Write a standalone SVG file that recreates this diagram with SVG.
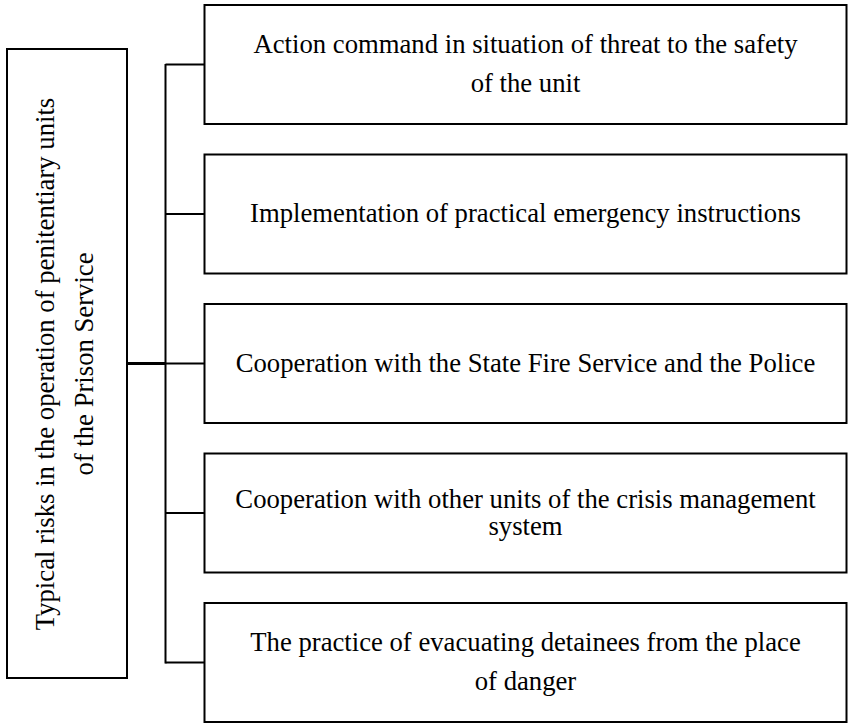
<svg xmlns="http://www.w3.org/2000/svg" width="848" height="723" viewBox="0 0 848 723">
<style>
.box{fill:#fff;stroke:#000;stroke-width:2}
.t{font-family:"Liberation Serif","Times New Roman",serif;font-size:26.7px;fill:#000;text-anchor:middle}
.c{stroke:#000;stroke-width:2;fill:none}
</style>
<rect width="848" height="723" fill="#fff"/>
<g id="connectors">
<line class="c" x1="127" y1="363.5" x2="165.5" y2="363.5" style="stroke-width:3"/>
<line class="c" x1="165.5" y1="64" x2="165.5" y2="663.5"/>
<line class="c" x1="165.5" y1="64.5" x2="204" y2="64.5"/>
<line class="c" x1="165.5" y1="214" x2="204" y2="214"/>
<line class="c" x1="165.5" y1="363.5" x2="204" y2="363.5"/>
<line class="c" x1="165.5" y1="513" x2="204" y2="513"/>
<line class="c" x1="165.5" y1="662.5" x2="204" y2="662.5"/>
</g>
<g id="root">
<rect class="box" x="7" y="49" width="120" height="629"/>
<text class="t" transform="translate(53.5,364) rotate(-90)"><tspan x="0" y="0">Typical risks in the operation of penitentiary units</tspan><tspan x="0" y="39">of the Prison Service</tspan></text>
</g>
<g id="n1">
<rect class="box" x="204.5" y="5" width="642" height="119"/>
<text class="t"><tspan x="525.5" y="53">Action command in situation of threat to the safety</tspan><tspan x="525.5" y="92">of the unit</tspan></text>
</g>
<g id="n2">
<rect class="box" x="204.5" y="154.5" width="642" height="119"/>
<text class="t" x="525.5" y="222">Implementation of practical emergency instructions</text>
</g>
<g id="n3">
<rect class="box" x="204.5" y="304" width="642" height="119"/>
<text class="t" x="525.5" y="372">Cooperation with the State Fire Service and the Police</text>
</g>
<g id="n4">
<rect class="box" x="204.5" y="453.5" width="642" height="119"/>
<text class="t"><tspan x="525.5" y="508">Cooperation with other units of the crisis management</tspan><tspan x="525.5" y="535">system</tspan></text>
</g>
<g id="n5">
<rect class="box" x="204.5" y="603" width="642" height="119"/>
<text class="t"><tspan x="525.5" y="651">The practice of evacuating detainees from the place</tspan><tspan x="525.5" y="690">of danger</tspan></text>
</g>
</svg>
